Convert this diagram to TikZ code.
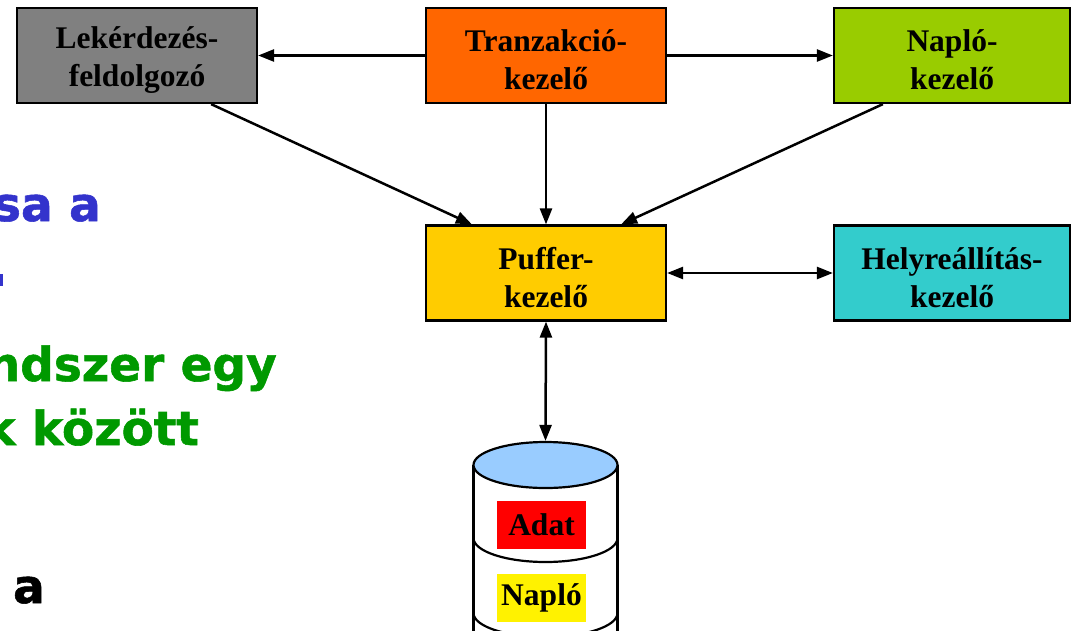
\documentclass[tikz,border=0pt]{standalone}
\usepackage{fontspec}
\setmainfont{Liberation Serif}
\newfontfamily\slidefont[BoldFeatures={FakeBold=1.2}]{DejaVu Sans}
\usetikzlibrary{arrows.meta,shapes.geometric}
\definecolor{cgray}{HTML}{808080}
\definecolor{corange}{HTML}{FF6600}
\definecolor{clime}{HTML}{99CC00}
\definecolor{cgold}{HTML}{FFCC00}
\definecolor{cteal}{HTML}{33CCCC}
\definecolor{csky}{HTML}{99CCFF}
\definecolor{cblue}{HTML}{3333CC}
\definecolor{cgreen}{HTML}{009900}
\tikzset{
  comp/.style={draw=black, line width=2.2pt, minimum width=240pt, minimum height=95pt,
    inner sep=0pt, align=center, font=\fontsize{31.5}{38}\selectfont\bfseries},
  label box/.style={inner sep=0pt, minimum width=89pt, minimum height=48pt,
    font=\fontsize{31.5}{38}\selectfont\bfseries},
  conn/.style={line width=2.5pt, -{Triangle[length=16pt,width=12pt]}},
  biconn/.style={line width=2.5pt, {Triangle[length=16pt,width=12pt]}-{Triangle[length=16pt,width=12pt]}},
  slide/.style={font=\fontsize{47}{56}\slidefont\bfseries, inner sep=0pt},
}
\begin{document}
\begin{tikzpicture}[x=1pt,y=-1pt]
\useasboundingbox (0,0) rectangle (1071,630);
\begin{scope}
\clip (0,0) rectangle (1071,630);
% slide text fragments
\node[slide, text=cblue, anchor=base east] (t1) at (101,221) {sa a};
\fill[cblue] (0,274) rectangle (3,286);
\node[slide, text=cgreen, anchor=base east] (t2) at (277,381) {ndszer egy};
\node[slide, text=cgreen, anchor=base east] (t3) at (199,445) {k között};
\node[slide, text=black, anchor=base east] (t4) at (45,603) {a};

% components
\node[comp, fill=cgray] (lek) at (137,55.5) {\rule{0pt}{31pt}Lekérdezés-\\feldolgozó};
\node[comp, fill=corange] (tra) at (546,55.5) {\rule{0pt}{31pt}Tranzakció-\\kezelő};
\node[comp, fill=clime, minimum width=236pt] (nap) at (952,55.5) {\rule{0pt}{31pt}Napló-\\kezelő};
\node[comp, fill=cgold] (puf) at (546,273) {\rule{0pt}{31pt}Puffer-\\kezelő};
\node[comp, fill=cteal, minimum width=236pt] (hel) at (952,273) {\rule{0pt}{31pt}Helyreállítás-\\kezelő};

% cylinder
\filldraw[fill=white, draw=black, line width=2.2pt]
  (473.5,465) -- (473.5,640) -- (617.5,640) -- (617.5,465);
\draw[line width=2.2pt] (473.5,538) arc[start angle=180, end angle=360, x radius=72pt, y radius=24pt];
\draw[line width=2.2pt] (473.5,613) arc[start angle=180, end angle=360, x radius=72pt, y radius=24pt];
\node[ellipse, draw=black, fill=csky, line width=2.2pt, minimum width=144pt, minimum height=46pt, inner sep=0pt] (cyl) at (545.5,465) {};
\node[label box, fill=red] (adat) at (541.5,525) {Adat};
\node[label box, fill=yellow] (nlog) at (541.5,598) {Napló};
\end{scope}

% connectors
\draw[conn] (tra.west) -- (lek.east);
\draw[conn] (tra.east) -- (nap.west);
\draw[conn] ([xshift=-47pt]lek.south east) -- ([xshift=47pt]puf.north west);
\draw[conn] (tra.south) -- (puf.north);
\draw[conn] ([xshift=50pt]nap.south west) -- ([xshift=-46pt]puf.north east);
\draw[biconn] (puf.east) -- (hel.west);
\draw[biconn] (puf.south) -- (cyl.north);
\end{tikzpicture}
\end{document}
